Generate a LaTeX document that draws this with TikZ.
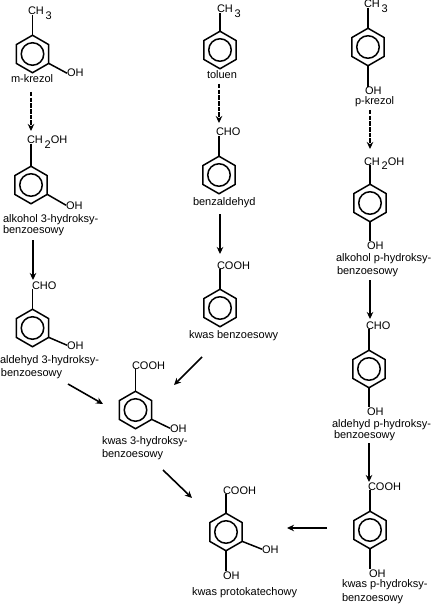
\documentclass[tikz,border=0pt]{standalone}
\usepackage{fontspec}
\setmainfont{Liberation Sans}
\usetikzlibrary{shapes.geometric,arrows.meta}
\tikzset{
  benz/.style={regular polygon,regular polygon sides=6,shape border rotate=30,draw,line width=1.5pt,minimum size=37.5pt,inner sep=0pt,outer sep=0pt},
  benzin/.style={circle,draw,line width=1.5pt,minimum size=22.5pt,inner sep=0pt,outer sep=0pt},
  txt/.style={anchor=base west,inner sep=0pt,outer sep=0pt,font=\fontsize{11}{13}\selectfont},
  bond/.style={line width=1.5pt},
  solidarrow/.style={line width=1.6pt,-{Stealth[length=7pt,width=6.5pt]}},
  dasharrow/.style={line width=1.6pt,dash pattern=on 4.5pt off 1.2pt,-{Stealth[length=7pt,width=6.5pt]}}
}
\newcommand{\benzring}[3]{\node[benz] (#1) at (#2,#3) {};\node[benzin] (#1c) at (#2,#3) {};}
\newcommand{\lab}[4]{\node[txt] (#1) at (#2,#3) {#4};}
\newcommand{\sbs}[1]{\smash{\raisebox{-1.5mm}{#1}}}
\begin{document}
\begin{tikzpicture}[x=1pt,y=-1pt]
\useasboundingbox (0,0) rectangle (431,604);
% m-krezol column
\benzring{ra}{32.5}{54}
\lab{ach}{28}{15}{CH\,\sbs{3}}
\lab{aoh}{67}{77}{OH}
\lab{an}{11}{83}{m-krezol}
\benzring{rb}{31}{185}
\lab{bch}{27}{144}{CH\,\sbs{2}OH}
\lab{boh}{66}{209}{OH}
\lab{bn}{3}{222}{alkohol 3-hydroksy-}
\lab{bn2}{3}{233}{benzoesowy}
\benzring{rc}{32.5}{328}
\lab{cch}{32}{289}{CHO}
\lab{coh}{67}{349}{OH}
\lab{cn}{0}{363}{aldehyd 3-hydroksy-}
\lab{cn2}{1}{376}{benzoesowy}
\benzring{rd}{135.5}{410}
\lab{dch}{132}{369}{COOH}
\lab{doh}{170}{432}{OH}
\lab{dn}{102}{444}{kwas 3-hydroksy-}
\lab{dn2}{102}{457}{benzoesowy}
% toluen column
\benzring{re}{220}{50}
\lab{ech}{217}{13}{CH\,\sbs{3}}
\lab{en}{207}{79}{toluen}
\benzring{rf}{219}{175}
\lab{fch}{216}{136}{CHO}
\lab{fn}{193}{205}{benzaldehyd}
\benzring{rg}{220}{308}
\lab{gch}{217}{269}{COOH}
\lab{gn}{189}{338}{kwas benzoesowy}
% p-krezol column
\benzring{rh}{368}{47}
\lab{hch}{364}{8}{CH\,\sbs{3}}
\lab{hoh}{365}{95}{OH}
\lab{hn}{355}{105}{p-krezol}
\benzring{ri}{370}{203}
\lab{ich}{364}{165}{CH\,\sbs{2}OH}
\lab{ioh}{367}{249}{OH}
\lab{in}{336}{261}{alkohol p-hydroksy-}
\lab{in2}{337}{274}{benzoesowy}
\benzring{rj}{369}{369}
\lab{jch}{366}{329}{CHO}
\lab{joh}{367}{415}{OH}
\lab{jn}{332}{427}{aldehyd p-hydroksy-}
\lab{jn2}{334}{438}{benzoesowy}
\benzring{rk}{370}{530}
\lab{kch}{368}{490}{COOH}
\lab{koh}{369}{577}{OH}
\lab{kn}{342}{587}{kwas p-hydroksy-}
\lab{kn2}{342}{601}{benzoesowy}
% protokatechowy
\benzring{rl}{226}{532}
\lab{lch}{223}{494}{COOH}
\lab{loh}{262}{553}{OH}
\lab{lob}{223}{579}{OH}
\lab{ln}{192}{595}{kwas protokatechowy}
% bonds
\foreach \r/\t in {ra/ach,rb/bch,rc/cch,rd/dch,re/ech,rf/fch,rg/gch,rh/hch,ri/ich,rj/jch,rk/kch,rl/lch}
  \draw[bond] (\r.corner 1) -- (\r.corner 1 |- \t.south);
\foreach \r/\t in {rh/hoh,ri/ioh,rj/joh,rk/koh,rl/lob}
  \draw[bond] (\r.corner 4) -- (\r.corner 4 |- \t.north);
\foreach \r/\t in {ra/aoh,rb/boh,rc/coh,rd/doh,rl/loh}
  \draw[bond] (\r.corner 5) -- (\t.west);
% arrow ends
\coordinate (a1s) at (31,92);   \coordinate (a1e) at (31,131);
\coordinate (a2s) at (33,240);  \coordinate (a2e) at (33,280);
\coordinate (a3s) at (68,384);  \coordinate (a3e) at (103,404);
\coordinate (a4s) at (219,84);  \coordinate (a4e) at (219,123);
\coordinate (a5s) at (220,214); \coordinate (a5e) at (220,254);
\coordinate (a6s) at (202,357); \coordinate (a6e) at (174,385);
\coordinate (a7s) at (370,110); \coordinate (a7e) at (370,149);
\coordinate (a8s) at (370,280); \coordinate (a8e) at (370,319);
\coordinate (a9s) at (369,443); \coordinate (a9e) at (369,482);
\coordinate (a10s) at (163,470); \coordinate (a10e) at (192,498);
\coordinate (a11s) at (327,528); \coordinate (a11e) at (287,528);
\foreach \n in {1,4,7} \draw[dasharrow] (a\n s) -- (a\n e);
\foreach \n in {2,3,5,6,8,9,10,11} \draw[solidarrow] (a\n s) -- (a\n e);
\end{tikzpicture}
\end{document}
